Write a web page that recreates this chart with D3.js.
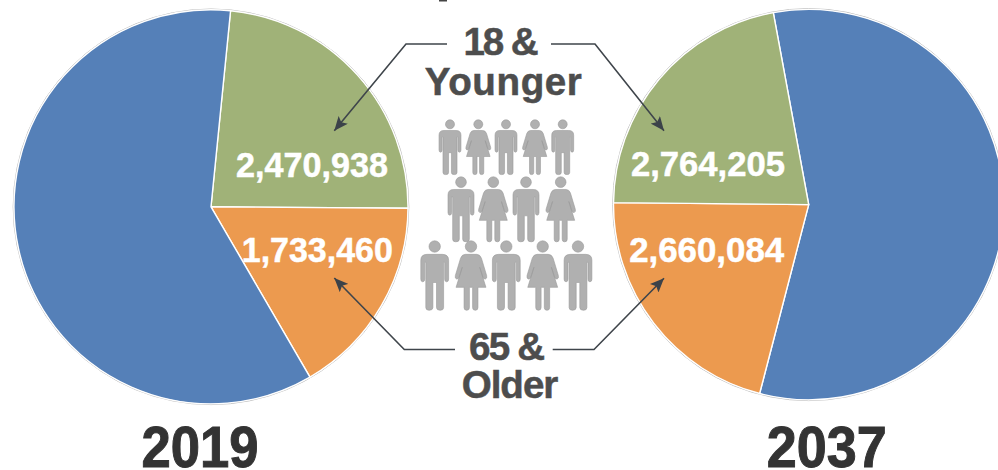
<!DOCTYPE html>
<html>
<head>
<meta charset="utf-8">
<script src="https://cdn.jsdelivr.net/npm/d3@7/dist/d3.min.js"></script>
<style>
html,body{margin:0;padding:0;background:#fff;overflow:hidden}
svg{display:block}
text{font-family:"Liberation Sans",Arial,sans-serif;font-weight:700}
</style>
</head>
<body>
<svg id="chart" width="998" height="470"></svg>
<script>
// Data
const years = ["2019", "2037"];
const order2019 = ["young", "old", "working"];
const order2037 = ["working", "old", "young"];
const values2019 = [2470938, 1733460, 6296000];
const values2037 = [7175000, 2660084, 2764205];
const groupLabels = [["18 &", "Younger"], ["65 &", "Older"]];
const peopleRows = [
  ["m", "f", "m", "f", "m"],
  ["m", "f", "m", "f"],
  ["m", "f", "m", "f", "m"]
];

// Layout
const W = 998, H = 470;
const rad = d => d * Math.PI / 180;
const pies = [
  {cx: 211, cy: 206.8, r: 197, start: 5.7, order: order2019, values: values2019},
  {cx: 808.7, cy: 204.6, r: 195.2, start: -10.45, order: order2037, values: values2037}
];
const colour = d3.scaleOrdinal()
  .domain(["working", "young", "old"])
  .range(["#5580b8", "#a0b278", "#ec9a4f"]);

const svg = d3.select("#chart");
const fmt = d3.format(",");

const defs = svg.append("defs");
defs.append("marker").attr("id", "head")
  .attr("markerUnits", "userSpaceOnUse")
  .attr("viewBox", "0 0 14 12").attr("refX", 14).attr("refY", 6)
  .attr("markerWidth", 14).attr("markerHeight", 12).attr("orient", "auto")
  .append("path").attr("d", "M0,0 L14,6 L0,12 L3,6 Z").attr("fill", "#3b4249");

// Pies
const labelPos = {
  "2019": {young: [312, 176.5, 152], old: [317.3, 262.3, 151]},
  "2037": {young: [708, 176, 154], old: [706.7, 262.3, 155]}
};
pies.forEach((p, i) => {
  const pie = d3.pie().sort(null).value(d => d.v)
    .startAngle(rad(p.start)).endAngle(rad(p.start + 360));
  const arc = d3.arc().innerRadius(0).outerRadius(p.r);
  const g = svg.append("g").attr("transform", `translate(${p.cx},${p.cy})`);
  g.append("circle").attr("r", p.r + 0.8).attr("fill", "none")
    .attr("stroke", "#bdbdbd").attr("stroke-width", 1);
  const arcs = pie(p.order.map((k, j) => ({k, v: p.values[j]})));
  g.selectAll("path").data(arcs).join("path")
    .attr("d", arc)
    .attr("fill", d => colour(d.data.k))
    .attr("stroke", "#fff").attr("stroke-width", 1.4)
    .attr("stroke-linejoin", "round");
  arcs.filter(d => d.data.k !== "working").forEach(d => {
    const lp = labelPos[years[i]][d.data.k];
    svg.append("text")
      .attr("x", lp[0]).attr("y", lp[1]).attr("text-anchor", "middle")
      .attr("font-size", 34.4).attr("fill", "#fff")
      .attr("stroke", "#fff").attr("stroke-width", 0.5)
      .attr("textLength", lp[2]).attr("lengthAdjust", "spacingAndGlyphs")
      .text(fmt(d.data.v));
  });
});

// Year titles
[[200, 466.5, 117], [826.7, 466.5, 120]].forEach((t, i) => {
  svg.append("text")
    .attr("x", t[0]).attr("y", t[1]).attr("text-anchor", "middle")
    .attr("font-size", 58).attr("fill", "#333")
    .attr("stroke", "#333").attr("stroke-width", 1)
    .attr("textLength", t[2]).attr("lengthAdjust", "spacingAndGlyphs")
    .text(years[i]);
});

// Leader arrows
const leaders = [
  [[447, 44], [406, 44], [334.3, 130.7]],
  [[551, 44], [595, 44], [664, 130.7]],
  [[455, 349.5], [404.3, 349.5], [334.3, 278]],
  [[552.7, 349.5], [594, 349.5], [664, 278.3]]
];
const line = d3.line();
svg.selectAll("path.leader").data(leaders).join("path")
  .attr("class", "leader")
  .attr("d", line).attr("fill", "none")
  .attr("stroke", "#3f454b").attr("stroke-width", 1.6)
  .attr("marker-end", "url(#head)");

// Group labels
const labelLayout = [
  [[501, 55, 75], [503.3, 95, 157]],
  [[507, 360, 76], [510, 397.7, 96.7]]
];
groupLabels.forEach((lines, i) => lines.forEach((s, j) => {
  const l = labelLayout[i][j];
  svg.append("text")
    .attr("x", l[0]).attr("y", l[1]).attr("text-anchor", "middle")
    .attr("font-size", 38.6).attr("fill", "#4d4d4d")
    .attr("stroke", "#4d4d4d").attr("stroke-width", 0.5)
    .attr("textLength", l[2]).attr("lengthAdjust", "spacing")
    .text(s);
}));

// Cropped fragment at the top edge of the reference
svg.append("rect").attr("x", 439).attr("y", 0).attr("width", 8).attr("height", 1.5).attr("fill", "#444");

// People
const manBody = "M-11,19.5 H11 Q20,19.5 20,28 V55 Q20,59 17.2,59 Q14.4,59 14.4,55 V31 H12.8 V96 Q12.8,100 8,100 Q2.6,100 2.6,96 V60 H-2.6 V96 Q-2.6,100 -8,100 Q-12.8,100 -12.8,96 V31 H-14.4 V55 Q-14.4,59 -17.2,59 Q-20,59 -20,55 V28 Q-20,19.5 -11,19.5 Z";
const womanBody = "M-8,19.5 H8 Q13,19.5 15,25 L22.5,50 Q23.5,54 20.8,55 Q18,55.5 17,52 L12.5,38 L21.5,67 H10 V96 Q10,100 6.2,100 Q2.3,100 2.3,96 V67 H-2.3 V96 Q-2.3,100 -6.2,100 Q-10,100 -10,96 V67 H-21.5 L-12.5,38 L-17,52 Q-18,55.5 -20.8,55 Q-23.5,54 -22.5,50 L-15,25 Q-13,19.5 -8,19.5 Z";
const rowLayout = [
  {top: 119.8, h: 54.8, xs: [450, 478.3, 506, 535, 562.7]},
  {top: 176.8, h: 65, xs: [461, 493.3, 526, 560.7]},
  {top: 240.8, h: 69.5, xs: [434.7, 471, 506.3, 542.7, 578]}
];
peopleRows.forEach((row, r) => {
  const lay = rowLayout[r];
  const k = lay.h / 100;
  row.forEach((sex, c) => {
    const g = svg.append("g")
      .attr("transform", `translate(${lay.xs[c]},${lay.top}) scale(${k})`)
      .attr("fill", "#b0b0b0").attr("stroke", "#9a9a9a")
      .attr("stroke-width", 0.6 / k);
    g.append("circle").attr("cx", 0).attr("cy", 8.2).attr("r", 8.2);
    g.append("path").attr("d", sex === "m" ? manBody : womanBody);
  });
});
</script>
</body>
</html>
